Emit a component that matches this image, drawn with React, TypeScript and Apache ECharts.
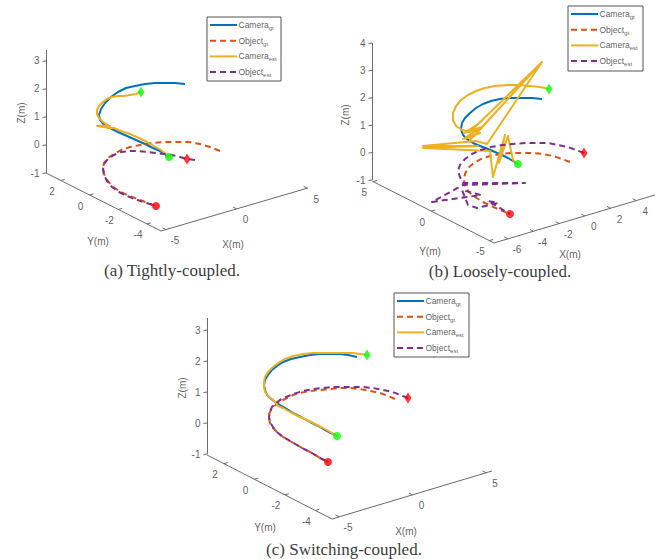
import React, { useEffect, useRef } from "react";
import * as echarts from "echarts";

type P = [number, number];

// ---------- data (projected 2-D positions of the 3-D trajectories, per panel) ----------
// Panel (a) Tightly-coupled
const camGtA: P[] = [[185,84],[175,83],[165,83],[155,83],[145,84],[135,86],[126,88],[118,92],[111,97],[105,103],[101,109],[99,115],[100,120],[104,125],[110,128],[118,132],[127,136],[136,140],[145,144],[153,148],[160,151],[166,155],[169,157]];
const objGtA: P[] = [[220,151],[210,147],[200,144],[189,142],[177,142],[165,142],[152,143],[140,145],[130,147],[121,150],[114,154],[108,158],[104,163],[103,168],[104,174],[107,180],[112,186],[119,191],[127,195],[135,198],[143,201],[150,204],[156,206]];
const camEstA: P[] = [[141,92],[136,94],[130,95],[124,96],[118,96],[112,97],[107,99],[103,102],[99,106],[97,110],[97,114],[99,118],[103,122],[108,125],[97,126],[104,127],[110,126],[107,128],[114,128],[121,131],[130,134],[139,138],[147,142],[154,146],[161,150],[166,154],[169,157]];
const objEstA: P[] = [[195,160],[187,159],[180,157],[172,155],[164,154],[156,153],[147,152],[138,151],[129,151],[121,152],[114,155],[108,159],[104,164],[103,169],[104,175],[107,181],[112,187],[119,192],[127,196],[135,199],[143,202],[150,204],[156,206]];
const markersA: P[] = [[141,92],[169,157],[187,159],[156,206]]; // cam start, cam end, obj start, obj end

// Panel (b) Loosely-coupled
const camGtB: P[] = [[542,99],[532,98],[520,98],[510,98],[500,99],[491,101],[483,104],[476,108],[470,113],[465,118],[462,123],[461,129],[463,135],[467,139],[473,143],[480,146],[488,149],[495,152],[502,155],[508,158],[513,161],[518,164]];
const objGtB: P[] = [[570,162],[562,159],[553,156],[543,154],[533,153],[522,153],[511,153],[500,154],[490,156],[481,159],[474,163],[468,168],[465,174],[464,180],[465,186],[469,192],[475,197],[483,202],[491,206],[500,210],[510,214]];
const camEstB: P[] = [[549,89],[540,87],[530,86],[520,85],[507,85],[495,86],[485,88],[476,91],[468,95],[461,100],[456,106],[453,113],[453,120],[456,126],[462,130],[470,132],[478,124],[464,133],[482,127],[466,137],[480,133],[463,139],[474,136],[542,62],[475,127],[470,140],[542,62],[487,144],[476,141],[423,146],[478,146],[423,148],[490,151],[493,177],[505,135],[499,163],[508,136],[513,160],[518,164]];
const objEstB: P[] = [[584,153],[576,150],[568,147],[558,145],[548,143],[537,143],[525,143],[513,144],[502,145],[491,147],[481,150],[472,154],[465,159],[460,165],[458,171],[460,177],[463,183],[525,183],[463,185],[432,202],[481,195],[462,190],[468,205],[477,208],[498,203],[488,201],[510,214]];
const markersB: P[] = [[549,89],[518,164],[584,153],[510,214]];

// Panel (c) Switching-coupled
const camGtC: P[] = [[357,357],[348,355],[340,354],[330,354],[320,354],[310,355],[300,357],[291,359],[283,362],[277,366],[272,370],[268,375],[265,380],[264,385],[265,390],[267,395],[270,398],[275,402],[280,405],[287,409],[293,413],[301,417],[310,422],[318,426],[325,430],[331,433],[335,435]];
const objGtC: P[] = [[395,399],[388,396],[380,393],[370,391],[360,389],[350,388],[340,388],[330,389],[320,390],[310,391],[300,393],[293,395],[287,398],[281,401],[277,404],[273,407],[271,410],[269,414],[269,418],[270,423],[273,428],[277,432],[283,437],[290,441],[297,445],[304,449],[312,453],[320,458],[328,462]];
const camEstC: P[] = [[367,355],[360,354],[353,353],[343,353],[333,353],[323,353],[313,353],[303,354],[293,356],[285,359],[278,363],[273,367],[268,372],[265,377],[264,382],[264,387],[265,392],[268,396],[272,399],[276,403],[278,406],[283,408],[290,412],[298,416],[307,420],[315,424],[323,428],[330,432],[337,436]];
const objEstC: P[] = [[408,398],[400,395],[393,392],[383,390],[373,388],[363,387],[353,387],[343,387],[333,387],[323,388],[313,389],[303,391],[293,394],[286,397],[280,400],[276,403],[272,407],[270,411],[269,417],[270,422],[273,427],[277,432],[283,437],[290,441],[297,445],[304,449],[312,453],[320,458],[328,462]];
const markersC: P[] = [[367,355],[337,436],[408,398],[328,462]];

// tick labels
const zTicksA = [3, 2, 1, 0, -1];
const yTicksA = [2, 0, -2, -4];
const xTicksA = [-5, 0, 5];
const zTicksB = [4, 3, 2, 1, 0, -1];
const yTicksB = [5, 0, -5];
const xTicksB = [-6, -4, -2, 0, 2, 4];
const zTicksC = [3, 2, 1, 0, -1];
const yTicksC = [2, 0, -2, -4];
const xTicksC = [-5, 0, 5];

const legendNames: [string, string][] = [["Camera", "gt"], ["Object", "gt"], ["Camera", "est"], ["Object", "est"]];
const axisTitles = ["X(m)", "Y(m)", "Z(m)"];
const captions = ["(a) Tightly-coupled.", "(b) Loosely-coupled.", "(c) Switching-coupled."];

// ---------- layout ----------
interface Ax { from: P; to: P; min: number; max: number }
interface Panel {
  z: Ax; y: Ax; x: Ax;
  zT: number[]; yT: number[]; xT: number[];
  series: P[][]; markers: P[];
  titles: { x: P; y: P; z: P };
  legend: [number, number, number, number];
  caption: string; capPos: P;
}

const panels: Panel[] = [
  {
    z: { from: [46, 173], to: [46, 50], min: -1, max: 3.39 },
    y: { from: [46, 173], to: [161, 231], min: 3.04, max: -4.97 },
    x: { from: [161, 231], to: [308, 188], min: -5.35, max: 5.05 },
    zT: zTicksA, yT: yTicksA, xT: xTicksA,
    series: [camGtA, objGtA, camEstA, objEstA], markers: markersA,
    titles: { z: [21, 113], y: [98, 241], x: [233, 244] },
    legend: [207, 17, 281, 81], caption: captions[0], capPos: [172, 270],
  },
  {
    z: { from: [372, 180], to: [372, 43], min: -1, max: 4 },
    y: { from: [372, 181], to: [494, 243], min: 5.1, max: -5.4 },
    x: { from: [494, 243], to: [655, 195], min: -7.08, max: 5.46 },
    zT: zTicksB, yT: yTicksB, xT: xTicksB,
    series: [camGtB, objGtB, camEstB, objEstB], markers: markersB,
    titles: { z: [345, 115], y: [430, 251], x: [570, 254] },
    legend: [568, 6, 643, 71], caption: captions[1], capPos: [500, 271],
  },
  {
    z: { from: [207, 454], to: [207, 318], min: -1, max: 3.39 },
    y: { from: [207, 455], to: [332, 519], min: 3.11, max: -5.09 },
    x: { from: [332, 519], to: [492, 471], min: -5.48, max: 5.4 },
    zT: zTicksC, yT: yTicksC, xT: xTicksC,
    series: [camGtC, objGtC, camEstC, objEstC], markers: markersC,
    titles: { z: [182, 388], y: [265, 527], x: [406, 531] },
    legend: [394, 293, 469, 357], caption: captions[2], capPos: [344, 549],
  },
];

const COLORS = ["#0072BD", "#D95319", "#EDB120", "#7E2F8E"];
const DASHED = [false, true, false, true];
const AXIS_COLOR = "#6a6a6a";
const TEXT_COLOR = "#333333";
const SANS = "Liberation Sans, Arial, Helvetica, sans-serif";
const SERIF = "Liberation Serif, Times New Roman, serif";

const at = (a: Ax, v: number): P => {
  const t = (v - a.min) / (a.max - a.min);
  return [a.from[0] + t * (a.to[0] - a.from[0]), a.from[1] + t * (a.to[1] - a.from[1])];
};

const textSeries = (items: { name: string; value: P }[], label: any, z = 6) => ({
  type: "scatter",
  data: items,
  symbolSize: 1,
  itemStyle: { color: "rgba(0,0,0,0)" },
  silent: true,
  z,
  label: { show: true, formatter: "{b}", color: TEXT_COLOR, fontFamily: SANS, fontSize: 10, ...label },
});

function buildOption() {
  const series: any[] = [];
  panels.forEach((p) => {
    // axis lines
    const segs: { coords: P[] }[] = [
      { coords: [p.z.from, p.z.to] },
      { coords: [p.y.from, p.y.to] },
      { coords: [p.x.from, p.x.to] },
    ];
    // ticks
    const yDir: P = [p.y.to[0] - p.y.from[0], p.y.to[1] - p.y.from[1]];
    const yLen = Math.hypot(yDir[0], yDir[1]);
    const xDir: P = [p.x.to[0] - p.x.from[0], p.x.to[1] - p.x.from[1]];
    const xLen = Math.hypot(xDir[0], xDir[1]);
    p.zT.forEach((v) => {
      const q = at(p.z, v);
      segs.push({ coords: [[q[0] - 3.5, q[1] + 0.5], q] });
    });
    p.yT.forEach((v) => {
      const q = at(p.y, v);
      segs.push({ coords: [q, [q[0] + (xDir[0] / xLen) * 4, q[1] + (xDir[1] / xLen) * 4]] });
    });
    p.xT.forEach((v) => {
      const q = at(p.x, v);
      segs.push({ coords: [q, [q[0] - (yDir[0] / yLen) * 4, q[1] - (yDir[1] / yLen) * 4]] });
    });
    series.push({
      type: "lines",
      coordinateSystem: "cartesian2d",
      polyline: false,
      silent: true,
      z: 1,
      data: segs,
      lineStyle: { color: AXIS_COLOR, width: 1, opacity: 1 },
    });

    // tick labels
    series.push(textSeries(p.zT.map((v) => ({ name: String(v), value: at(p.z, v) })), { position: "left", distance: 6 }));
    series.push(
      textSeries(
        p.yT.map((v) => {
          const q = at(p.y, v);
          return { name: String(v), value: [q[0] - 9, q[1] + 11] as P };
        }),
        { position: "inside" }
      )
    );
    series.push(
      textSeries(
        p.xT.map((v) => {
          const q = at(p.x, v);
          return { name: String(v), value: [q[0] + 9, q[1] + 11] as P };
        }),
        { position: "inside" }
      )
    );
    // axis titles
    series.push(
      textSeries(
        [
          { name: axisTitles[0], value: p.titles.x },
          { name: axisTitles[1], value: p.titles.y },
        ],
        { position: "inside" }
      )
    );
    series.push(textSeries([{ name: axisTitles[2], value: p.titles.z }], { position: "inside", rotate: 90 }));

    // trajectories
    p.series.forEach((d, i) => {
      series.push({
        type: "line",
        data: d,
        showSymbol: false,
        symbol: "none",
        silent: true,
        z: 3 + i * 0.1,
        lineStyle: { color: COLORS[i], width: 2, type: DASHED[i] ? [6, 4] : "solid", cap: "butt", join: "round" },
      });
    });

    // start / end markers
    series.push({
      type: "scatter",
      silent: true,
      z: 5,
      data: [
        { value: p.markers[0], symbol: "diamond", symbolSize: [7, 11], itemStyle: { color: "#00ff00" } },
        { value: p.markers[1], symbol: "circle", symbolSize: 8, itemStyle: { color: "#00ff00" } },
        { value: p.markers[2], symbol: "diamond", symbolSize: [7, 11], itemStyle: { color: "#ff0000" } },
        { value: p.markers[3], symbol: "circle", symbolSize: 8, itemStyle: { color: "#ff0000" } },
      ],
    });

    // legend box
    const [l, t, r, b] = p.legend;
    series.push({
      type: "lines",
      coordinateSystem: "cartesian2d",
      polyline: true,
      silent: true,
      z: 7,
      data: [{ coords: [[l, t], [r, t], [r, b], [l, b], [l, t]] }],
      lineStyle: { color: "#555555", width: 1, opacity: 1 },
    });
    const rowY = (i: number) => t + 8 + i * 15.7;
    legendNames.forEach((_, i) => {
      series.push({
        type: "line",
        data: [[l + 3, rowY(i)], [l + 30, rowY(i)]],
        showSymbol: false,
        symbol: "none",
        silent: true,
        z: 7,
        lineStyle: { color: COLORS[i], width: 2, type: DASHED[i] ? [6, 4] : "solid", cap: "butt" },
      });
    });
    series.push(
      textSeries(
        legendNames.map((n, i) => ({ name: n[0] + "|" + n[1], value: [l + 31, rowY(i)] as P })),
        {
          position: "right",
          distance: 0,
          formatter: (q: any) => {
            const [a, s] = String(q.name).split("|");
            return `{m|${a}}{s|${s}}`;
          },
          rich: {
            m: { fontSize: 8.5, fontFamily: SANS, color: TEXT_COLOR },
            s: { fontSize: 6, fontFamily: SANS, color: TEXT_COLOR, padding: [6, 0, 0, 0] },
          },
        },
        8
      )
    );

    // caption
    series.push(
      textSeries([{ name: p.caption, value: p.capPos }], {
        position: "inside",
        fontFamily: SERIF,
        fontSize: 17,
        color: "#000000",
      })
    );
  });

  return {
    animation: false,
    backgroundColor: "#ffffff",
    grid: { left: 0, right: 0, top: 0, bottom: 0, containLabel: false },
    xAxis: { type: "value", min: 0, max: 665, show: false },
    yAxis: { type: "value", min: 0, max: 559, inverse: true, show: false },
    series,
  };
}

export default function App() {
  const ref = useRef<HTMLDivElement>(null);
  useEffect(() => {
    if (!ref.current) return;
    const chart = echarts.init(ref.current, undefined, { renderer: "svg" });
    chart.setOption(buildOption() as any);
    return () => chart.dispose();
  }, []);
  return (
    <div
      ref={ref}
      style={{ position: "fixed", left: 0, top: 0, width: 665, height: 559, background: "#ffffff" }}
    />
  );
}
